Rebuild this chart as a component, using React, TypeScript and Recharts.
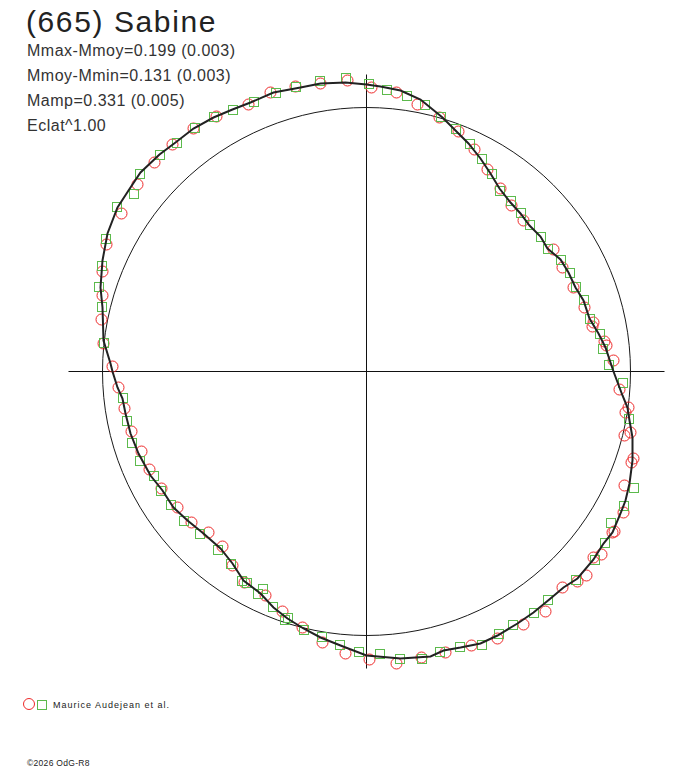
import React from 'react';
import { ScatterChart, Scatter, XAxis, YAxis, ReferenceDot, ReferenceLine } from 'recharts';

// Polar light curve, offsets from centre in units where the mean-flux circle has radius 264
const CURVE_X = [
    0, 14, 34, 54, 76, 89, 102, 114, 124, 133, 144, 154, 163, 174, 181, 194, 202, 209, 217, 223,
    232, 239, 243, 247, 256, 261, 263, 266, 266, 263, 259, 254, 246, 237, 227, 211, 197, 184, 167, 151,
    131, 114, 94, 77, 64, 34, 0, -26, -46, -63, -79, -93, -106, -123, -134, -146, -163, -179, -193, -204,
    -216, -228, -236, -241, -244, -249, -254, -256, -263, -264, -266, -264, -259, -249, -238, -226, -207, -191, -173, -153,
    -134, -116, -93, -66, -46, -21, 0,
];
const CURVE_Y = [
    287, 285, 281, 272, 254, 241, 228, 213, 198, 183, 169, 158, 146, 135, 123, 112, 99, 84, 71, 53,
    38, 24, 12, 0, -24, -36, -49, -66, -89, -112, -129, -142, -161, -172, -188, -207, -216, -227, -241, -252,
    -264, -272, -276, -279, -285, -287, -284, -274, -266, -257, -247, -236, -222, -209, -192, -177, -162, -149, -136, -119,
    -104, -82, -62, -42, -27, -16, 0, 8, 31, 64, 84, 111, 138, 164, 181, 199, 217, 229, 243, 254,
    262, 269, 279, 284, 288, 289, 287,
];

const RED_X = [
    -71, -46, -19, 5, 30, 51, 73, 92, 108, 121, 134, 145, 157, 187, 196, 207, 218, 227, 226, 238,
    240, 247, 253, 262, 259, 264, 258, 267, 265, 258, 257, 246, 248, 235, 227, 220, 211, 196, 179, 157,
    131, 105, 79, 55, 30, 3, -21, -44, -64, -84, -101, -122, -134, -144, -158, -175, -189, -205, -217, -225,
    -235, -242, -248, -254, -263, -265, -264, -264, -260, -245, -229, -212, -194, -173, -150, -118, -96,
];
const RED_Y = [
    285, 288, 291, 284, 279, 267, 254, 240, 222, 202, 183, 166, 151, 122, 104, 84, 64, 49, 45, 30,
    26, 11, -18, -36, -41, -61, -64, -87, -91, -114, -141, -161, -160, -183, -186, -204, -210, -216, -240, -253,
    -267, -274, -281, -286, -292, -288, -282, -271, -256, -240, -224, -211, -194, -175, -161, -151, -136, -117, -98, -80,
    -60, -37, -16, 5, 28, 52, 76, 100, 127, 158, 187, 209, 227, 243, 255, 267, 279,
];

const GREEN_X = [
    -71, -47, -20, 2, 21, 40, 58, 74, 89, 103, 115, 125, 133, 144, 154, 163, 174, 181, 194, 203,
    209, 217, 223, 233, 236, 242, 256, 262, 267, 257, 244, 238, 228, 209, 181, 167, 146, 132, 115, 93,
    73, 55, 33, 13, -8, -27, -45, -63, -79, -82, -94, -104, -109, -119, -125, -136, -149, -167, -182, -196,
    -206, -213, -227, -235, -240, -244, -263, -264, -268, -265, -261, -250, -233, -227, -207, -190, -172, -153, -134, -113,
    -91,
];
const GREEN_Y = [
    284, 290, 294, 287, 281, 276, 266, 255, 242, 227, 212, 197, 181, 170, 159, 146, 135, 122, 112, 99,
    85, 72, 53, 38, 23, 7, -11, -48, -116, -135, -151, -171, -188, -208, -228, -241, -253, -262, -273, -275,
    -280, -287, -287, -282, -280, -273, -265, -258, -246, -248, -235, -217, -222, -211, -209, -192, -178, -162, -149, -133,
    -120, -105, -90, -71, -49, -27, 29, 65, 85, 106, 133, 165, 178, 198, 217, 229, 244, 254, 262, 270,
    279,
];

const R_MEAN = 264;
const AXIS_EXT = 298;
const X_DOMAIN = [-366.5, 321.5];
const Y_DOMAIN = [-396.5, 371.5];

const TITLE = '(665) Sabine';
const STATS = [
    'Mmax-Mmoy=0.199 (0.003)',
    'Mmoy-Mmin=0.131 (0.003)',
    'Mamp=0.331 (0.005)',
    'Eclat^1.00',
];
const SOURCE = 'Maurice Audejean et al.';
const COPYRIGHT = '©2026 OdG-R8';

const RED = '#ee2a2a';
const GREEN = '#5cba4c';
const FONT = '"Liberation Sans", Arial, sans-serif';

const toPoints = (xs: number[], ys: number[]) => xs.map((x, i) => ({ x, y: ys[i] }));

const curveData = toPoints(CURVE_X, CURVE_Y);
const redData = toPoints(RED_X, RED_Y);
const greenData = toPoints(GREEN_X, GREEN_Y);

const EmptyShape = () => <g />;

const RedCircle = (props: any) => (
    <circle cx={props.cx} cy={props.cy} r={5.5} fill="none" stroke={RED} strokeWidth={1} />
);

const GreenSquare = (props: any) => (
    <rect
        x={Math.round(props.cx) - 4.5}
        y={Math.round(props.cy) - 4.5}
        width={9}
        height={9}
        fill="none"
        stroke={GREEN}
        strokeWidth={1}
        shapeRendering="crispEdges"
    />
);

export default function App() {
    return (
        <div style={{ position: 'absolute', left: 0, top: 0, width: 688, height: 768, background: '#fff' }}>
            <ScatterChart width={688} height={768} margin={{ top: 0, right: 0, bottom: 0, left: 0 }}>
                <XAxis type="number" dataKey="x" domain={X_DOMAIN} hide allowDataOverflow />
                <YAxis type="number" dataKey="y" domain={Y_DOMAIN} hide allowDataOverflow />
                <ReferenceDot x={0} y={0} r={R_MEAN} fill="none" stroke="#1a1a1a" strokeWidth={1} />
                <ReferenceLine segment={[{ x: -AXIS_EXT, y: 0 }, { x: AXIS_EXT, y: 0 }]} stroke="#111" strokeWidth={1} />
                <ReferenceLine segment={[{ x: 0, y: AXIS_EXT - 1 }, { x: 0, y: -AXIS_EXT + 1 }]} stroke="#111" strokeWidth={1} />
                <Scatter data={redData} shape={RedCircle} isAnimationActive={false} />
                <Scatter data={greenData} shape={GreenSquare} isAnimationActive={false} />
                <Scatter
                    data={curveData}
                    shape={EmptyShape}
                    line={{ stroke: '#222', strokeWidth: 2 }}
                    isAnimationActive={false}
                />
            </ScatterChart>
            <svg width={688} height={768} style={{ position: 'absolute', left: 0, top: 0, pointerEvents: 'none' }}>
                <text x={26} y={32} fontFamily={FONT} fontSize={30} letterSpacing={1.6} fill="#222">
                    {TITLE}
                </text>
                {STATS.map((s, i) => (
                    <text key={s} x={27} y={56 + i * 25} fontFamily={FONT} fontSize={16} letterSpacing={0.5} fill="#333">
                        {s}
                    </text>
                ))}
                <circle cx={29} cy={704} r={5.5} fill="none" stroke={RED} />
                <rect x={37.5} y={700.5} width={9} height={9} fill="none" stroke={GREEN} shapeRendering="crispEdges" />
                <text x={53} y={708} fontFamily={FONT} fontSize={9} letterSpacing={1} fill="#222">
                    {SOURCE}
                </text>
                <text x={27} y={766} fontFamily={FONT} fontSize={8.5} letterSpacing={0.3} fill="#222">
                    {COPYRIGHT}
                </text>
            </svg>
        </div>
    );
}
